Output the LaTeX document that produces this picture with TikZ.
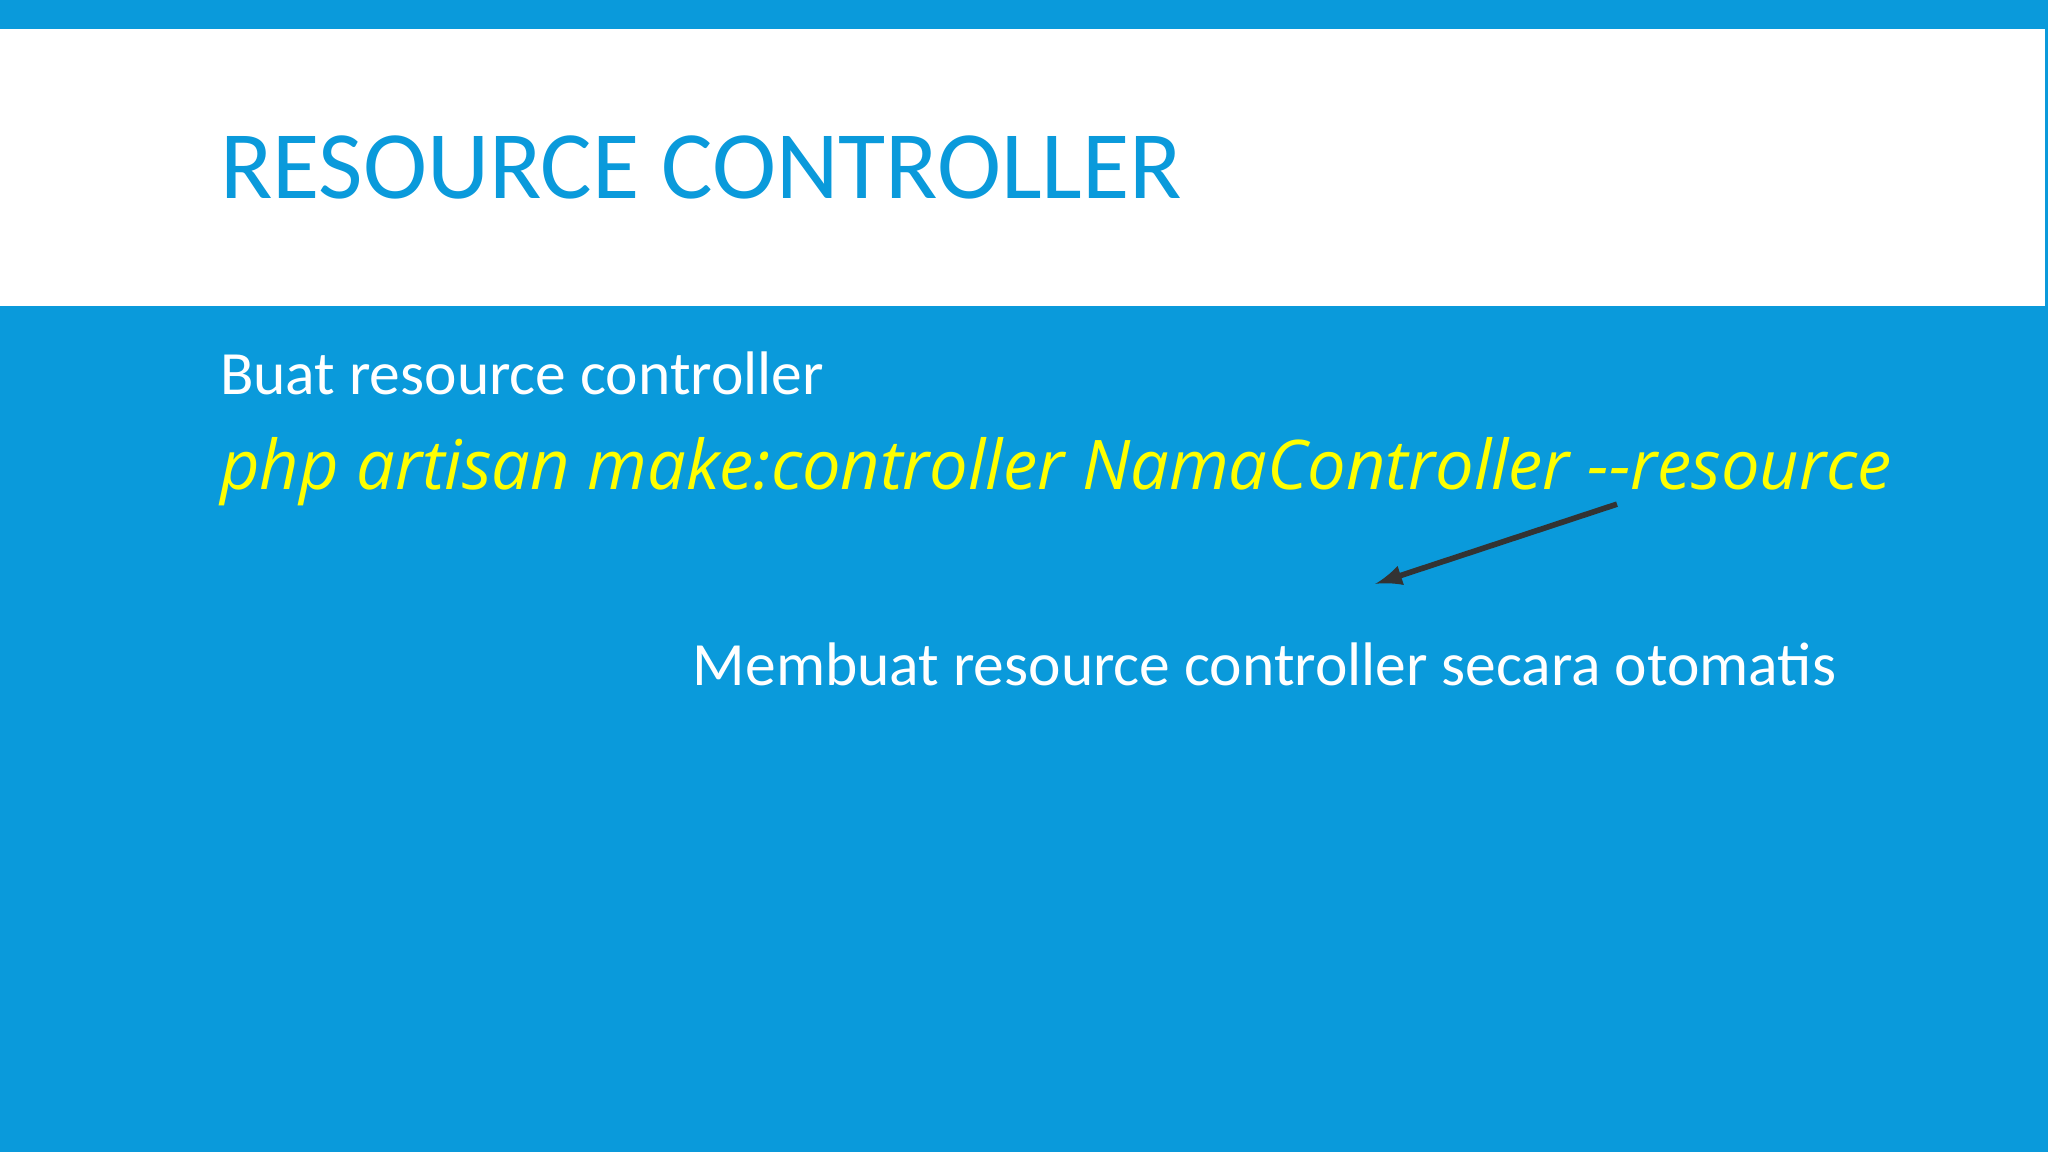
\documentclass[tikz,border=0pt]{standalone}
\usepackage{fontspec}
\setmainfont{Carlito}
\newfontfamily\codefont{Open Sans}
\definecolor{slideblue}{HTML}{0A9ADB}
\definecolor{codeyellow}{HTML}{FFFF00}
\definecolor{arrowgray}{HTML}{333333}
\begin{document}
\begin{tikzpicture}[x=0.01306cm,y=-0.01306cm,
  txt/.style={anchor=base west,inner sep=0pt,text=white}]
\useasboundingbox (0,0) rectangle (1568,882);
\fill[slideblue] (0,0) rectangle (1568,882);
\fill[white] (0,22) rectangle (1566,234);
\node[txt,text=slideblue,font=\fontsize{27.5}{30}\selectfont] (title) at (168,152) {RESOURCE CONTROLLER};
\node[txt,font=\fontsize{17.5}{20}\selectfont] (buat) at (168,302) {Buat resource controller};
\node[txt,text=codeyellow,font=\codefont\itshape\fontsize{19.5}{22}\selectfont] (cmd) at (168,375) {php artisan make:controller NamaController --resource};
\node[txt,font=\fontsize{17.5}{20}\selectfont] (desc) at (530,525) {Membuat resource controller secara otomatis};
\coordinate (a1) at (1238,386);
\coordinate (a2) at (1053,447);
\draw[arrowgray,line width=1.6pt,-latex] (a1) -- (a2);
\end{tikzpicture}
\end{document}
